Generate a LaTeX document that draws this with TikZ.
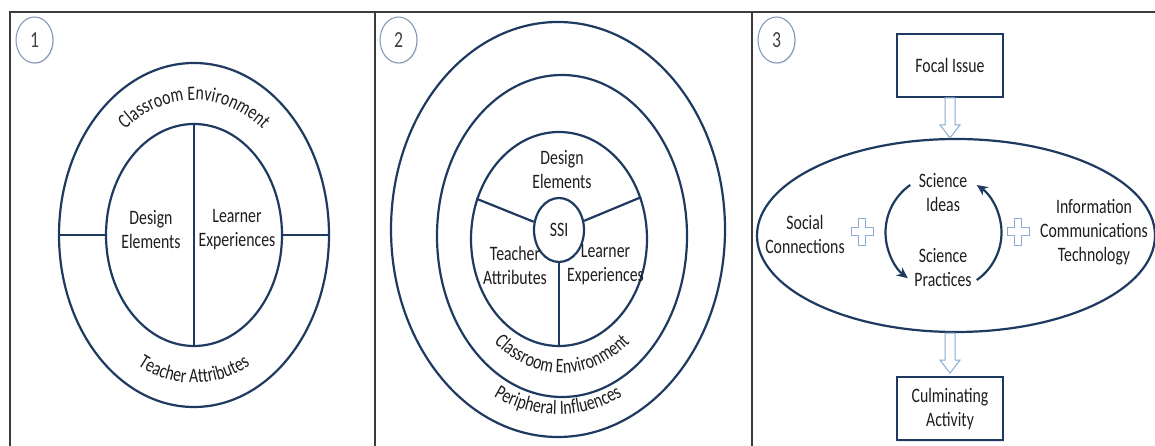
\documentclass[tikz,border=0pt]{standalone}
\usepackage{fontspec}
\setmainfont[FakeStretch=0.77]{Carlito}
\usepackage{tikz}
\usetikzlibrary{positioning,shapes.geometric,decorations.text,arrows.meta,shadows}

\definecolor{ringblue}{HTML}{1F3A60}
\definecolor{paleblue}{HTML}{8DAAD0}
\definecolor{badgeline}{HTML}{7E95B5}
\definecolor{framegray}{HTML}{3C3C3C}
\definecolor{inkgray}{HTML}{1E1E1E}

\newcommand{\diagfont}{\fontsize{20.5}{24}\selectfont}
\newcommand{\hollowdown}[1]{%
  \draw[hollow] ([xshift=-5pt]#1) -- ++(0,-27) -- ++(-5,0) -- ++(10,-13)
    -- ++(10,13) -- ++(-5,0) -- ++(0,27) -- cycle;}

\begin{document}
\begin{tikzpicture}[
      x=1pt, y=1pt,
      ring/.style={ellipse, draw=ringblue, line width=2.2pt, inner sep=0pt},
      spoke/.style={draw=ringblue, line width=2.2pt},
      lbl/.style={font=\diagfont, text=inkgray, align=center, inner sep=0pt},
      badge/.style={ellipse, draw=badgeline, line width=1pt, fill=white,
        minimum width=37pt, minimum height=46pt, inner sep=0pt,
        font=\fontsize{23}{23}\selectfont, text=black!75,
        drop shadow={shadow xshift=1pt, shadow yshift=-1pt, opacity=0.2}},
      issuebox/.style={draw=ringblue, line width=2pt, fill=white,
        minimum width=106pt, minimum height=63pt, font=\diagfont,
        text=inkgray, align=center,
        drop shadow={shadow xshift=1pt, shadow yshift=-1.5pt, opacity=0.2}},
      hollow/.style={draw=paleblue, fill=white, line width=1pt},
      looparrow/.style={draw=ringblue, line width=2.2pt,
        -{Stealth[length=11pt,width=10pt]}},
      frame/.style={draw=framegray, line width=1.3pt},
      plussign/.pic={\draw[hollow] (-3.5,13.5) -- (3.5,13.5) -- (3.5,4)
        -- (11,4) -- (11,-4) -- (3.5,-4) -- (3.5,-13.5) -- (-3.5,-13.5)
        -- (-3.5,-4) -- (-11,-4) -- (-11,4) -- (-3.5,4) -- cycle;}
      ]

  \fill[white] (0,0) rectangle (1155,446);
  \useasboundingbox (0,0) rectangle (1155,446);

  \draw[frame] (10,0) -- (10,434) -- (1155,434);
  \draw[frame] (375,0) -- (375,434);
  \draw[frame] (752,0) -- (752,434);

  \node[badge] (b1) at (34.5,406) {1};
  \node[badge] (b2) at (398.5,406) {2};
  \node[badge] (b3) at (776.5,406) {3};

  % panel 1
  \node[ring, minimum width=270pt, minimum height=344pt] (r1out) at (194,211) {};
  \node[ring, minimum width=176pt, minimum height=222pt] (r1in) at (194,211) {};
  \node[lbl] (design1) at (151,216) {Design\\Elements};
  \node[lbl] (learner1) at (237,216) {Learner\\Experiences};

  \draw[spoke] (r1out.west) -- (r1in.west);
  \draw[spoke] (r1in.east) -- (r1out.east);
  \draw[spoke] (r1in.north) -- (r1in.south);

  \path[decorate, decoration={text along path, text align=center,
      text={|\diagfont\color{inkgray}|Classroom Environment}}]
    ([xshift=-110pt]r1out.center) arc[start angle=180, end angle=0,
      x radius=110, y radius=135];
  \path[decorate, decoration={text along path, text align=center,
      text={|\diagfont\color{inkgray}|Teacher Attributes}}]
    ([xshift=-120pt]r1out.center) arc[start angle=180, end angle=360,
      x radius=120, y radius=148];

  % panel 2
  \node[ring, minimum width=334pt, minimum height=415pt] (r2out) at (558,216.5) {};
  \node[ring, minimum width=250pt, minimum height=322pt] (r2mid) at (562,210) {};
  \node[ring, minimum width=176pt, minimum height=214pt] (r2in) at (559,207) {};
  \node[ring, minimum width=50pt, minimum height=64pt, font=\diagfont,
    text=inkgray] (ssi) at (559,216) {SSI};
  \node[lbl] (design2) at (562,276.5) {Design\\Elements};
  \node[lbl] (teacher2) at (515,181) {Teacher\\Attributes};
  \node[lbl] (learner2) at (605.5,181) {Learner\\Experiences};

  \draw[spoke] (ssi.162) -- (r2in.154);
  \draw[spoke] (ssi.20) -- (r2in.27);
  \draw[spoke] (ssi.south) -- (r2in.south);

  \path[decorate, decoration={text along path, text align=center,
      text={|\diagfont\color{inkgray}|Classroom Environment}}]
    ([xshift=-108pt]r2mid.center) arc[start angle=180, end angle=360,
      x radius=108, y radius=137];
  \path[decorate, decoration={text along path, text align=center,
      text={|\diagfont\color{inkgray}|Peripheral Influences}}]
    ([xshift=-148pt]r2out.center) arc[start angle=180, end angle=360,
      x radius=148, y radius=185];

  % panel 3
  \node[ring, minimum width=398pt, minimum height=193pt] (hub) at (956,210.5) {};
  \node[issuebox, above=40pt of hub, xshift=-6pt] (focal) {Focal Issue};
  \node[issuebox, below=43pt of hub, xshift=-6pt] (culm) {Culminating\\Activity};
  \node[lbl] (ideas) at (943,253) {Science\\Ideas};
  \node[lbl] (practices) at (943,178) {Science\\Practices};
  \node[lbl] (social) at (805,211.5) {Social\\Connections};
  \node[lbl] (ict) at (1094,214) {Information\\Communications\\Technology};
  \pic at (862,214) {plussign};
  \pic at (1018,214) {plussign};
  \coordinate (loop) at (943.5,213.5);
  \coordinate (hubfoot) at (hub.south -| culm.north);

  \hollowdown{focal.south}
  \hollowdown{hubfoot}
  \draw[looparrow] ([shift={(125:58)}]loop) arc[start angle=125, end angle=232, radius=58];
  \draw[looparrow] ([shift={(-55:58)}]loop) arc[start angle=-55, end angle=55, radius=58];

\end{tikzpicture}
\end{document}
